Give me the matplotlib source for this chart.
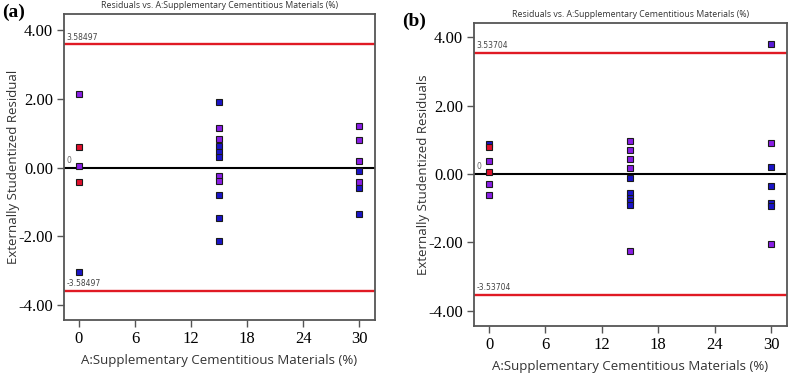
import numpy as np
import matplotlib
matplotlib.use("Agg")
import matplotlib.pyplot as plt

# residual data
x_a = [0, 0, 0, 0, 0,
       15, 15, 15, 15, 15, 15, 15, 15, 15, 15, 15,
       30, 30, 30, 30, 30, 30, 30]
res_a = [2.13, 0.59, 0.04, -0.41, -3.04,
         1.92, 1.14, 0.83, 0.62, 0.44, 0.32, -0.25, -0.38, -0.80, -1.47, -2.14,
         1.20, 0.81, 0.20, -0.09, -0.43, -0.59, -1.35]
col_a = ["p", "r", "p", "r", "b",
         "b", "p", "p", "b", "b", "b", "p", "p", "b", "b", "b",
         "p", "p", "p", "b", "p", "b", "b"]
limit_a = 3.58497

x_b = [0, 0, 0, 0, 0, 0,
       15, 15, 15, 15, 15, 15, 15, 15, 15, 15,
       30, 30, 30, 30, 30, 30, 30]
res_b = [0.87, 0.80, 0.38, 0.07, -0.29, -0.60,
         0.97, 0.70, 0.43, 0.17, -0.13, -0.55, -0.70, -0.80, -0.90, -2.26,
         3.79, 0.91, 0.20, -0.34, -0.84, -0.93, -2.04]
col_b = ["b", "r", "p", "r", "p", "p",
         "p", "p", "p", "p", "b", "b", "b", "b", "b", "p",
         "q", "p", "b", "b", "b", "b", "p"]
limit_b = 3.53704

xticks = [0, 6, 12, 18, 24, 30]
yticks = [-4, -2, 0, 2, 4]

colors = {"p": "#8a1ee6", "b": "#1a14c8", "r": "#e0102c", "q": "#5a1ad8"}

title = "Residuals vs. A:Supplementary Cementitious Materials (%)"
xlabel = "A:Supplementary Cementitious Materials (%)"

fig = plt.figure(figsize=(7.96, 3.77), dpi=100)
ax_a = fig.add_axes([0.0804, 0.1512, 0.3907, 0.8117])
ax_b = fig.add_axes([0.5955, 0.1353, 0.3932, 0.8037])


def residual_panel(ax, x, res, col, limit, ylabel, ylim):
    for xi, yi, ci in zip(x, res, col):
        ax.plot(xi, yi, "s", ms=5.0, mfc=colors[ci], mec="#1a1a1a", mew=0.8, zorder=3)
    ax.axhline(limit, color="#e01a24", lw=1.7, zorder=2)
    ax.axhline(-limit, color="#e01a24", lw=1.7, zorder=2)
    ax.axhline(0, color="black", lw=1.5, zorder=2)
    ax.set_xlim(-1.6, 31.7)
    ax.set_ylim(*ylim)
    ax.set_xticks(xticks)
    ax.set_yticks(yticks)
    ax.set_xticklabels([str(t) for t in xticks], family="Liberation Serif", fontsize=12)
    ax.set_yticklabels(["%.2f" % t for t in yticks], family="Liberation Serif", fontsize=12)
    ax.tick_params(direction="out", length=5, width=1, color="#555555", pad=3)
    for s in ax.spines.values():
        s.set_color("#555555")
        s.set_linewidth(1.3)
    ax.set_xlabel(xlabel, family="Open Sans", fontsize=9.5, color="#333333", labelpad=5)
    ax.set_ylabel(ylabel, family="Open Sans", fontsize=9.5, color="#333333", labelpad=-1)
    ax.set_title(title, family="Open Sans", fontsize=6.3, color="#333333", pad=4)
    ax.text(-1.3, limit + 0.08, "%.5f" % limit, fontsize=5.5, color="#444444", va="bottom")
    ax.text(-1.3, -limit + 0.08, "%.5f" % -limit, fontsize=5.5, color="#444444", va="bottom")
    ax.text(-1.3, 0.08, "0", fontsize=5.5, color="#666666", va="bottom")


residual_panel(ax_a, x_a, res_a, col_a, limit_a, "Externally Studentized Residual", (-4.44, 4.47))
residual_panel(ax_b, x_b, res_b, col_b, limit_b, "Externally Studentized Residuals", (-4.44, 4.41))

fig.text(0.003, 0.955, "(a)", family="Liberation Serif", fontweight="bold", fontsize=14)
fig.text(0.505, 0.93, "(b)", family="Liberation Serif", fontweight="bold", fontsize=14)

fig.savefig("out.png", dpi=100)
